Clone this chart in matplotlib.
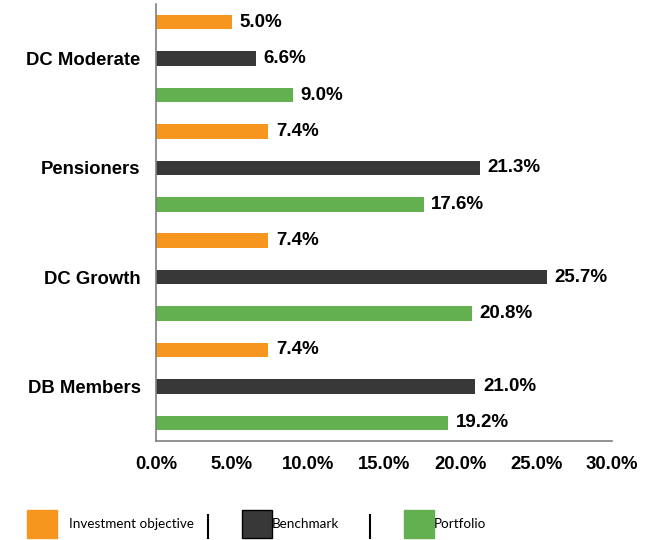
import numpy as np
import matplotlib.pyplot as plt
from matplotlib.patches import Rectangle

plt.rcParams['font.family'] = ['Liberation Sans', 'DejaVu Sans']

# Data (top to bottom)
categories = ["DC Moderate", "Pensioners", "DC Growth", "DB Members"]
series = ["Investment objective", "Benchmark", "Portfolio"]
objective = [5.0, 7.4, 7.4, 7.4]
benchmark = [6.6, 21.3, 25.7, 21.0]
portfolio = [9.0, 17.6, 20.8, 19.2]
colors = ["#F7961F", "#383838", "#62B050"]
xticks = [0, 5, 10, 15, 20, 25, 30]

fig = plt.figure(figsize=(6.52, 5.4), dpi=100)
ax = fig.add_axes([0.239, 1 - 441 / 540, 0.7, 437 / 540])

values = [objective, benchmark, portfolio]
n = len(categories)
for j, (vals, c) in enumerate(zip(values, colors)):
    for i, v in enumerate(vals):
        y = 3 * i + j
        ax.barh(y, v, height=0.4, color=c)
        ax.text(v + 0.5, y, f"{v:.1f}%", va="center", ha="left",
                fontsize=13.5, fontweight="bold")

ax.set_ylim(3 * n - 0.5, -0.5)
ax.set_xlim(0, 30)
ax.set_yticks([3 * i + 1 for i in range(n)])
ax.set_yticklabels(categories, fontsize=13.3, fontweight="bold")
ax.set_xticks(xticks)
ax.set_xticklabels([f"{t:.1f}%" for t in xticks], fontsize=13.3, fontweight="bold")
ax.tick_params(length=0)
ax.tick_params(axis="x", pad=11)
ax.tick_params(axis="y", pad=11)
for s in ["top", "right"]:
    ax.spines[s].set_visible(False)
for s in ["left", "bottom"]:
    ax.spines[s].set_color("#7f7f7f")
    ax.spines[s].set_linewidth(1.2)

# Legend drawn by hand
W, H = 652, 540
leg = [(27, 69), (242, 272), (404, 434)]
for (px, tx), name, c in zip(leg, series, colors):
    ec = "black" if c == "#383838" else c
    fig.patches.append(Rectangle((px / W, 1 - 538 / H), 30 / W, 28 / H,
                                 facecolor=c, edgecolor=ec, lw=1,
                                 transform=fig.transFigure))
    fig.text(tx / W, 1 - 524 / H, name, fontsize=9.7, va="center",
             family=["Lato", "DejaVu Sans"])
for sx in [208, 370]:
    fig.add_artist(plt.Line2D([sx / W, sx / W], [1 - 515 / H, 1 - 538 / H],
                              color="black", lw=1.5, transform=fig.transFigure))

fig.savefig("out.png", dpi=100)
